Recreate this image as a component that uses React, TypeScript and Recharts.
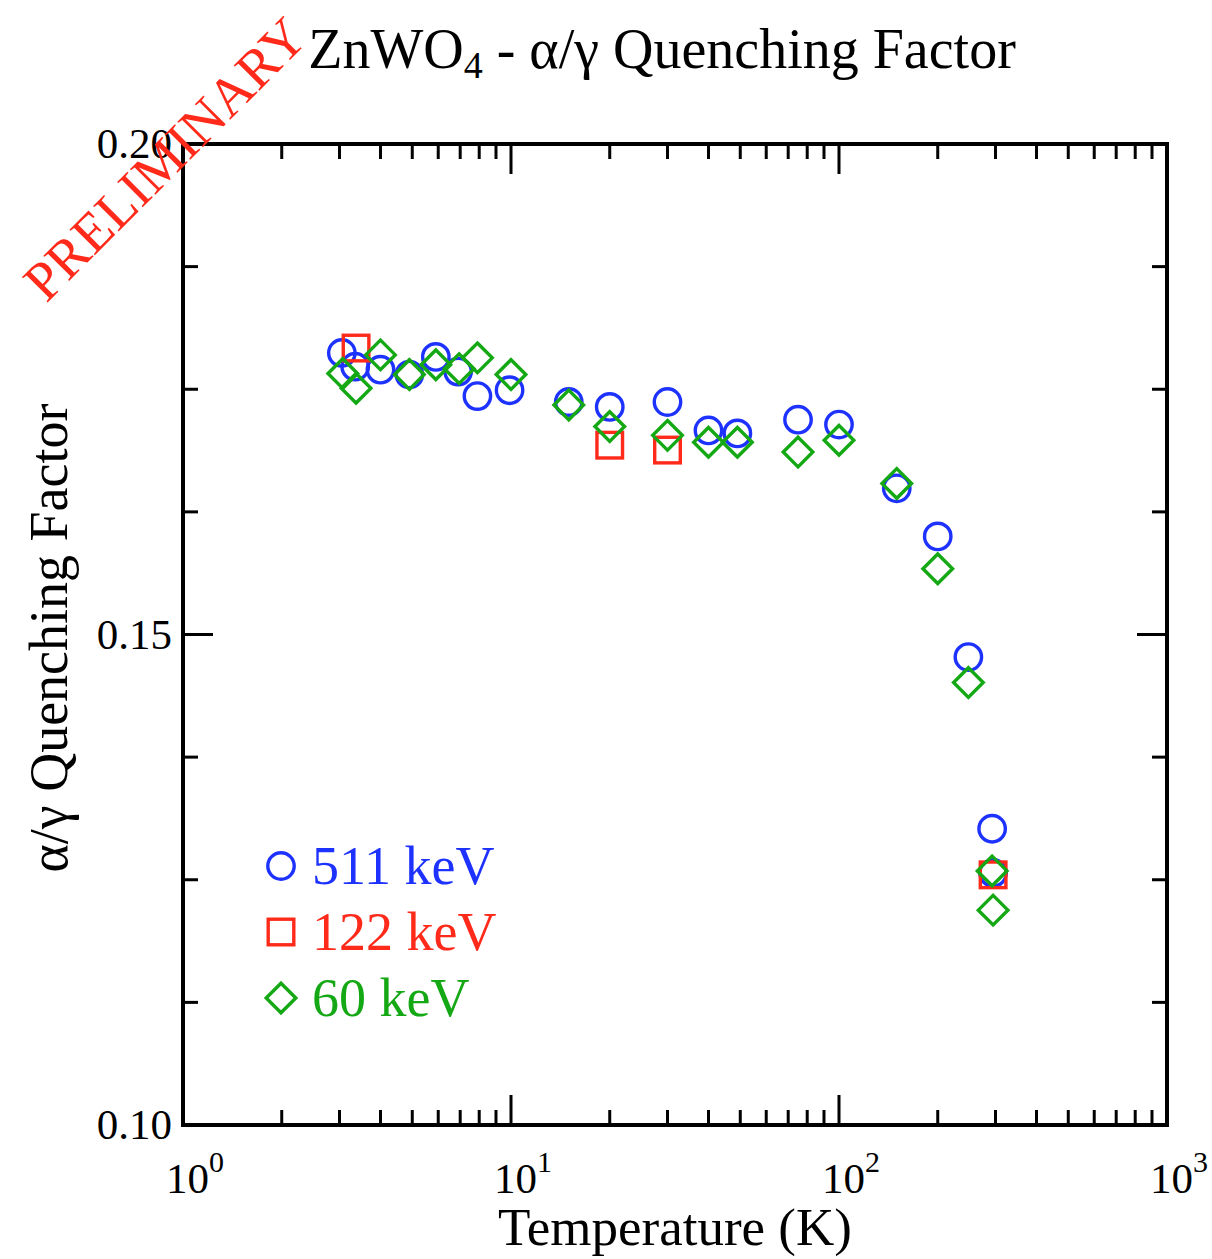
import React from 'react';
import { ScatterChart, Scatter, XAxis, YAxis, Legend } from 'recharts';

// ---------- data ----------
const temps511 = [3.05, 3.35, 4.0, 4.9, 5.9, 6.9, 7.9, 9.9, 15, 20, 30, 40, 49, 75, 100, 150, 200, 248, 293, 295];
const qf511 = [0.1787, 0.1773, 0.177, 0.1765, 0.1783, 0.1768, 0.1743, 0.1749, 0.1737, 0.1732, 0.1737, 0.1708, 0.1705, 0.1719, 0.1714, 0.1649, 0.16, 0.1477, 0.1302, 0.1257];

const temps122 = [3.37, 20, 30, 295];
const qf122 = [0.1792, 0.1693, 0.1688, 0.1255];

const temps60 = [3.07, 3.37, 4.0, 4.9, 5.9, 6.95, 7.9, 10, 15, 20, 30, 40, 49, 75, 100, 150, 200, 248, 293, 295];
const qf60 = [0.1766, 0.1751, 0.1785, 0.1765, 0.1775, 0.1771, 0.1782, 0.1765, 0.1734, 0.1712, 0.1703, 0.1696, 0.1696, 0.1686, 0.1698, 0.1654, 0.1567, 0.1451, 0.1259, 0.1219];

const xMajorTicks = [1, 10, 100, 1000];
const xMinorTicks = [2, 3, 4, 5, 6, 7, 8, 9, 20, 30, 40, 50, 60, 70, 80, 90, 200, 300, 400, 500, 600, 700, 800, 900];
const yTicks = [0.1, 0.1125, 0.125, 0.1375, 0.15, 0.1625, 0.175, 0.1875, 0.2];
const yLabeledTicks = [0.1, 0.15, 0.2];

const titleMain = 'ZnWO';
const titleSub = '4';
const titleRest = ' - α/γ Quenching Factor';
const xLabel = 'Temperature (K)';
const yLabel = 'α/γ Quenching Factor';
const watermark = 'PRELIMINARY';

// ---------- styles ----------
const FONT = '"Liberation Serif", "Times New Roman", Times, serif';
const BLUE = '#1e32ff';
const RED = '#ff2a1a';
const GREEN = '#14a814';

const toPoints = (t: number[], q: number[]) => t.map((v, i) => ({ t: v, q: q[i] }));

const series = [
  { name: '511 keV', color: BLUE, kind: 'circle', data: toPoints(temps511, qf511) },
  { name: '122 keV', color: RED, kind: 'square', data: toPoints(temps122, qf122) },
  { name: '60 keV', color: GREEN, kind: 'diamond', data: toPoints(temps60, qf60) },
];

const W = 1212;
const H = 1259;
// axes take 1px each; plot area spans x 183..1167, y 144..1125
const MARGIN = { top: 143, right: 44, bottom: 133, left: 182 };

function Marker({ kind, cx, cy, color }: { kind: string; cx: number; cy: number; color: string }) {
  if (kind === 'circle') {
    return <circle cx={cx} cy={cy} r={13.2} fill="none" stroke={color} strokeWidth={3.4} />;
  }
  if (kind === 'square') {
    return <rect x={cx - 12.8} y={cy - 12.8} width={25.6} height={25.6} fill="none" stroke={color} strokeWidth={3.4} />;
  }
  const h = 14.8;
  return (
    <polygon
      points={`${cx},${cy - h} ${cx + h},${cy} ${cx},${cy + h} ${cx - h},${cy}`}
      fill="none"
      stroke={color}
      strokeWidth={3.4}
    />
  );
}

const isMajorX = (v: number) => xMajorTicks.some((m) => Math.abs(m - v) < 1e-9);
const isLabeledY = (v: number) => yLabeledTicks.some((m) => Math.abs(m - v) < 1e-9);

const BottomTick = (props: any) => {
  const { x, y, payload } = props;
  const v = payload.value;
  const major = isMajorX(v);
  const len = major ? 30 : 15;
  const exp = Math.round(Math.log10(v));
  return (
    <g>
      <line x1={x} x2={x} y1={y} y2={y - len} stroke="#000" strokeWidth={3} />
      {major && (
        <text x={x - 17} y={y + 68} fontFamily={FONT} fontSize={43} fill="#000" textAnchor="start">
          <tspan>10</tspan>
          <tspan dy={-21} fontSize={30}>{exp}</tspan>
        </text>
      )}
    </g>
  );
};

const TopTick = (props: any) => {
  const { x, y, payload } = props;
  const len = isMajorX(payload.value) ? 30 : 15;
  return <line x1={x} x2={x} y1={y} y2={y + len} stroke="#000" strokeWidth={3} />;
};

const LeftTick = (props: any) => {
  const { x, y, payload } = props;
  const v = payload.value;
  const lab = isLabeledY(v);
  const len = lab ? 30 : 15;
  return (
    <g>
      <line x1={x} x2={x + len} y1={y} y2={y} stroke="#000" strokeWidth={3} />
      {lab && (
        <text x={x - 11} y={y + 14} fontFamily={FONT} fontSize={43} fill="#000" textAnchor="end">
          {v.toFixed(2)}
        </text>
      )}
    </g>
  );
};

const RightTick = (props: any) => {
  const { x, y, payload } = props;
  const len = isLabeledY(payload.value) ? 30 : 15;
  return <line x1={x} x2={x - len} y1={y} y2={y} stroke="#000" strokeWidth={3} />;
};

const renderLegend = () => {
  return (
    <svg width={320} height={210} style={{ overflow: 'visible' }}>
      {series.map((s, i) => {
        const cy = 36 + i * 66;
        return (
          <g key={s.name}>
            <Marker kind={s.kind} cx={31} cy={cy} color={s.color} />
            <text x={62} y={cy + 18} fontFamily={FONT} fontSize={54} fill={s.color}>
              {s.name}
            </text>
          </g>
        );
      })}
    </svg>
  );
};

const axisLineStyle = { stroke: '#000', strokeWidth: 4, strokeLinecap: 'square' as const };

export default function App() {
  return (
    <div style={{ position: 'absolute', left: 0, top: 0, width: W, height: H, background: '#fff' }}>
      <ScatterChart width={W} height={H} margin={MARGIN}>
        <XAxis
          xAxisId="b"
          type="number"
          dataKey="t"
          scale="log"
          domain={[1, 1000]}
          allowDataOverflow
          ticks={[...xMajorTicks, ...xMinorTicks]}
          interval={0}
          height={1}
          tickSize={0}
          tickMargin={0}
          tickLine={false}
          axisLine={axisLineStyle}
          tick={<BottomTick />}
        />
        <XAxis
          xAxisId="t"
          orientation="top"
          type="number"
          dataKey="t"
          scale="log"
          domain={[1, 1000]}
          allowDataOverflow
          ticks={[...xMajorTicks, ...xMinorTicks]}
          interval={0}
          height={1}
          tickSize={0}
          tickMargin={0}
          tickLine={false}
          axisLine={axisLineStyle}
          tick={<TopTick />}
        />
        <YAxis
          yAxisId="l"
          type="number"
          dataKey="q"
          domain={[0.1, 0.2]}
          allowDataOverflow
          ticks={yTicks}
          interval={0}
          width={1}
          tickSize={0}
          tickMargin={0}
          tickLine={false}
          axisLine={axisLineStyle}
          tick={<LeftTick />}
        />
        <YAxis
          yAxisId="r"
          orientation="right"
          type="number"
          dataKey="q"
          domain={[0.1, 0.2]}
          allowDataOverflow
          ticks={yTicks}
          interval={0}
          width={1}
          tickSize={0}
          tickMargin={0}
          tickLine={false}
          axisLine={axisLineStyle}
          tick={<RightTick />}
        />
        <Legend
          layout="vertical"
          align="center"
          verticalAlign="middle"
          content={renderLegend}
          wrapperStyle={{ position: 'absolute', left: 250, top: 830, width: 320, height: 210 }}
        />
        {series.map((s) => (
          <Scatter
            key={s.name}
            name={s.name}
            data={s.data}
            xAxisId="b"
            yAxisId="l"
            fill={s.color}
            stroke={s.color}
            isAnimationActive={false}
            shape={(p: any) => <Marker kind={s.kind} cx={p.cx} cy={p.cy} color={s.color} />}
          />
        ))}
      </ScatterChart>
      <svg
        width={W}
        height={H}
        style={{ position: 'absolute', left: 0, top: 0, pointerEvents: 'none', overflow: 'visible' }}
      >
        <text x={662} y={68} fontFamily={FONT} fontSize={56} fill="#000" textAnchor="middle">
          <tspan>{titleMain}</tspan>
          <tspan fontSize={38} dy={10}>{titleSub}</tspan>
          <tspan dy={-10}>{titleRest}</tspan>
        </text>
        <text x={675} y={1245} fontFamily={FONT} fontSize={53} fill="#000" textAnchor="middle">
          {xLabel}
        </text>
        <text
          transform="translate(67,638) rotate(-90)"
          fontFamily={FONT}
          fontSize={54}
          fill="#000"
          textAnchor="middle"
        >
          {yLabel}
        </text>
        <text
          transform="translate(178,172) rotate(-45)"
          fontFamily={FONT}
          fontSize={55}
          fill={RED}
          textAnchor="middle"
        >
          {watermark}
        </text>
      </svg>
    </div>
  );
}
